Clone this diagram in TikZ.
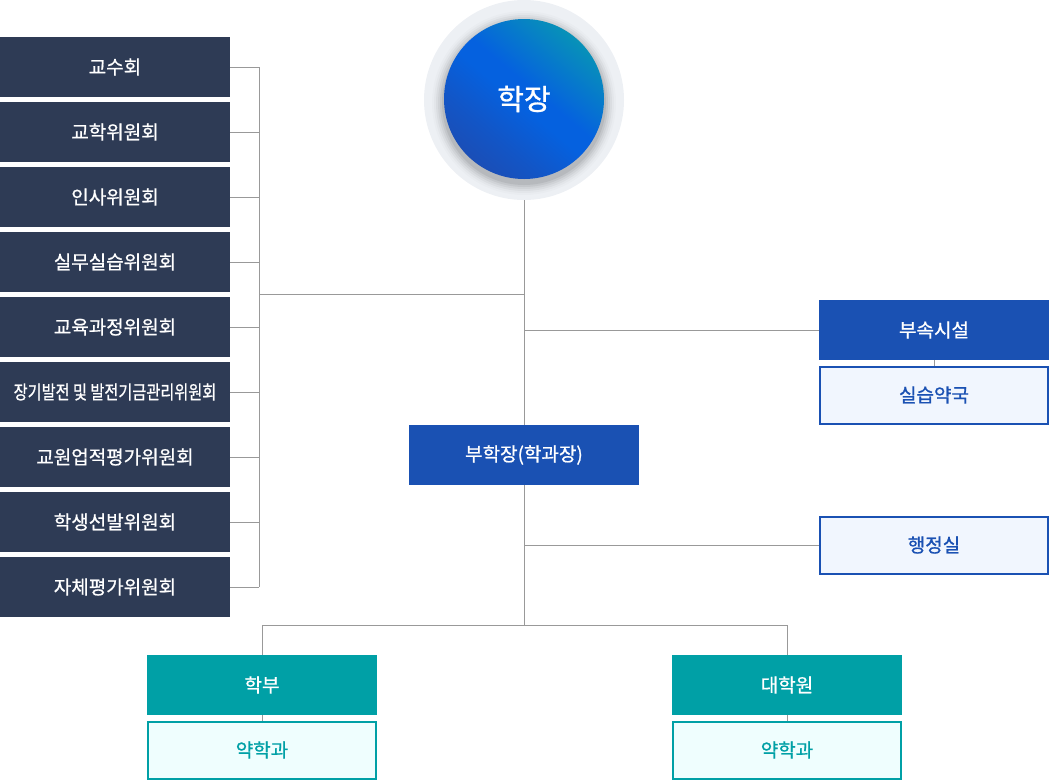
\documentclass[tikz,border=0pt]{standalone}
\usepackage{fontspec}
\setmainfont{Noto Sans CJK KR}[FakeBold=0.9]
\usetikzlibrary{positioning}
\definecolor{navy}{HTML}{2E3B55}
\definecolor{royal}{HTML}{1A51B3}
\definecolor{paleblue}{HTML}{F1F6FE}
\definecolor{teal2}{HTML}{00A0A6}
\definecolor{paleteal}{HTML}{EFFEFE}
\definecolor{linegray}{HTML}{999999}
\definecolor{halo}{HTML}{EDF0F4}
\definecolor{gradA}{HTML}{0899B2}
\definecolor{gradB}{HTML}{0561DF}
\definecolor{gradC}{HTML}{1D4CB2}
\pgfdeclareverticalshading{deanshade}{100bp}{color(0bp)=(gradC); color(22bp)=(gradC); color(35bp)=(gradC!55!gradB); color(48bp)=(gradB); color(54bp)=(gradB); color(78bp)=(gradA); color(100bp)=(gradA)}
\tikzset{
  basebox/.style={rectangle, inner sep=0pt, font=\fontsize{19}{22}\selectfont},
  navybox/.style={basebox, fill=navy, text=white, minimum width=230pt, minimum height=60pt},
  bluebox/.style={basebox, fill=royal, text=white, minimum width=230pt, minimum height=60pt},
  lightblue/.style={basebox, fill=paleblue, draw=royal, line width=2pt, text=royal, minimum width=228pt, minimum height=57pt},
  tealbox/.style={basebox, fill=teal2, text=white, minimum width=230pt, minimum height=60pt},
  lightteal/.style={basebox, fill=paleteal, draw=teal2, line width=2pt, text=teal2, minimum width=228pt, minimum height=57pt},
  conn/.style={draw=linegray, line width=1pt},
}
\begin{document}
\begin{tikzpicture}[x=1pt,y=-1pt]
\useasboundingbox (0,0) rectangle (1049,780);
% left committee boxes
\foreach \t [count=\i] in {교수회,교학위원회,인사위원회,실무실습위원회,교육과정위원회,{\scalebox{0.8}[1]{장기발전 및 발전기금관리위원회}},교원업적평가위원회,학생선발위원회,자체평가위원회}{
  \node[navybox] (c\i) at (115,{2+65*\i}) {\t};
}
\coordinate (lbus) at (259,294);
\foreach \i in {1,...,9}{
  \draw[conn] (c\i.east) -- (c\i.east -| lbus);
}
\draw[conn] (c1.east -| lbus) -- (c9.east -| lbus);

% dean circle
\node[circle, fill=halo, minimum size=200pt, inner sep=0pt] (dean) at (524,100) {};
\foreach \r/\o in {92/0.015,90/0.025,88/0.035,86/0.045,84/0.055,82/0.065}{
  \fill[black, opacity=\o] (524,103) circle (\r pt);
}
\shade[shading=deanshade, shading angle=-40] (524,99) circle (80pt);
\node[text=white, font=\fontsize{29}{32}\selectfont] (deanlabel) at (524,99) {학장};

% vice dean
\node[bluebox] (vice) at (524,455) {부학장(학과장)};
\draw[conn] (dean.south) -- (vice.north);
\draw[conn] (lbus) -- (lbus -| vice.north);

% right side
\node[bluebox] (annex) at (934,330) {부속시설};
\node[lightblue] (pharm) at (934,395) {실습약국};
\node[lightblue] (admin) at (934,545) {행정실};
\draw[conn] (annex.west -| vice.north) -- (annex.west);
\draw[conn] (annex.south) -- (pharm.north);
\draw[conn] (admin.west -| vice.south) -- (admin.west);

% bottom
\node[tealbox] (ug) at (262,685) {학부};
\node[lightteal] (ugdept) at (262,750) {약학과};
\node[tealbox] (grad) at (787,685) {대학원};
\node[lightteal] (graddept) at (787,750) {약학과};
\coordinate (split) at (524,625);
\draw[conn] (vice.south) -- (split);
\draw[conn] (ug.north) |- (split) -| (grad.north);
\draw[conn] (ug.south) -- (ugdept.north);
\draw[conn] (grad.south) -- (graddept.north);
\end{tikzpicture}
\end{document}
